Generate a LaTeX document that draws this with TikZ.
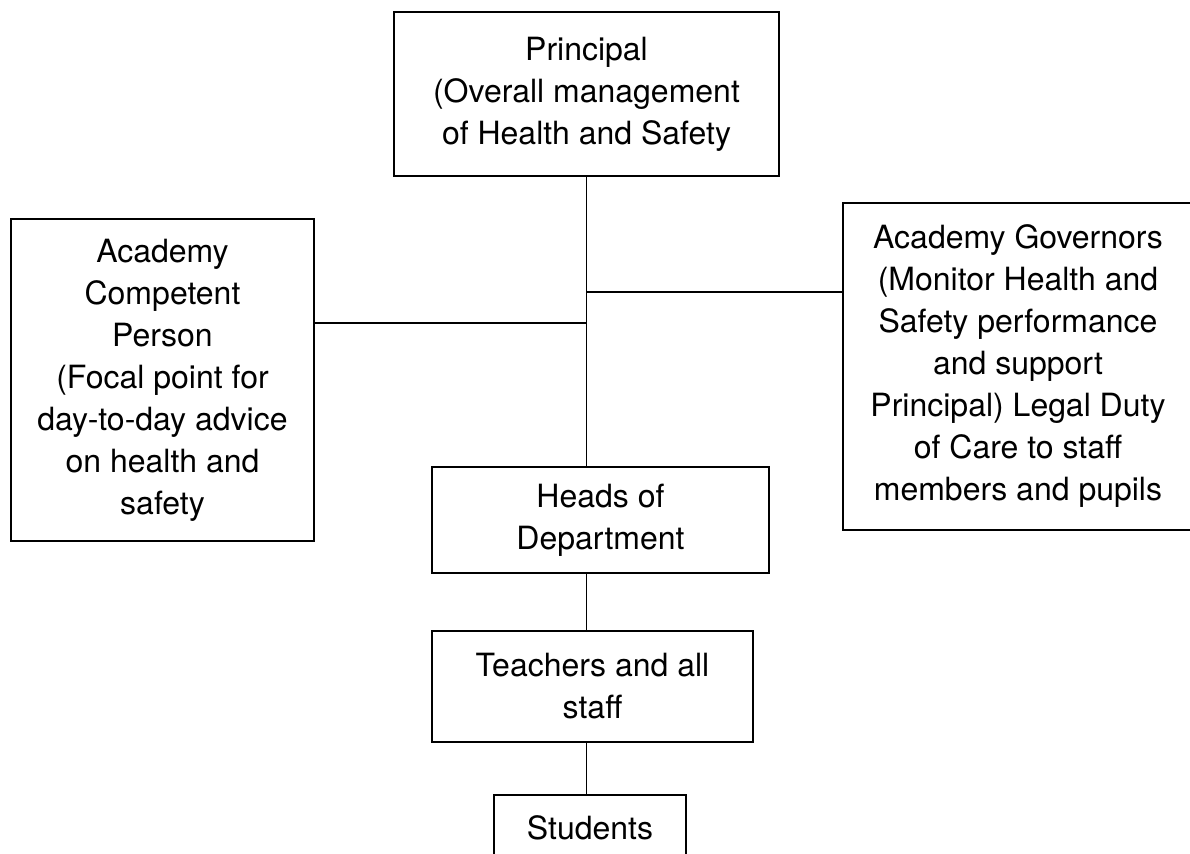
\documentclass[tikz,border=0pt]{standalone}
\usepackage{fontspec}
\setmainfont{TeX Gyre Heros}
\begin{document}
\begin{tikzpicture}[x=0.5pt, y=-0.5pt, line width=0.9pt, org node/.style={rectangle, draw, align=center, inner sep=2pt}]
            \tikzstyle{every node}=[font=\fontsize{16}{21}\selectfont]
            \useasboundingbox (0,0) rectangle (1190,853);

              \node[org node, minimum width=192.5pt, minimum height=82pt] (prin) at (586.5,94) {Principal\\(Overall management\\of Health and Safety};
              \node[org node, minimum width=151.5pt, minimum height=161pt] (acp) at (162.5,380) {Academy\\Competent\\Person\\(Focal point for\\day-to-day advice\\on health and\\safety};
              \node[org node, minimum width=175pt, minimum height=163.5pt] (gov) at (1018,366.5) {Academy Governors\\(Monitor Health and\\Safety performance\\and support\\Principal) Legal Duty\\of Care to staff\\members and pupils};
              \node[org node, minimum width=168.5pt, minimum height=53pt] (heads) at (600.5,520) {Heads of\\Department};
              \node[org node, minimum width=160.5pt, minimum height=55.5pt] (staff) at (592.5,686.5) {Teachers and all\\staff};
              \node[org node, minimum width=96pt, minimum height=33pt] (stud) at (590,828) {Students};

              \coordinate (lj) at (586.5,323);
              \coordinate (rj) at (586.5,292);

              \path[draw]
                (prin.south) -- (prin.south |- heads.north)
                (acp.east |- lj) -- (lj)
                (rj) -- (rj -| gov.west)
                (heads.south -| prin.south) -- (staff.north -| prin.south)
                (staff.south -| prin.south) -- (stud.north -| prin.south);

            \end{tikzpicture}
\end{document}
